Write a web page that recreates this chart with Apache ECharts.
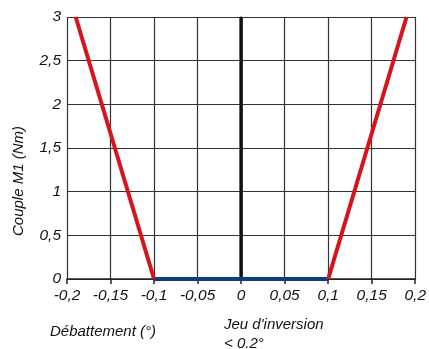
<!DOCTYPE html>
<html><head><meta charset="utf-8">
<script src="https://cdn.jsdelivr.net/npm/echarts@6/dist/echarts.min.js"></script>
<style>html,body{margin:0;padding:0;background:#fff}#c{width:429px;height:349px}</style>
</head><body><div id="c"></div>
<script>
var xTicks = ['-0,2','-0,15','-0,1','-0,05','0','0,05','0,1','0,15','0,2'];
var yTicks = ['0','0,5','1','1,5','2','2,5','3'];
var redLeft = [[-0.19, 3], [-0.1, 0]];
var blueFlat = [[-0.1, 0], [0.1, 0]];
var redRight = [[0.1, 0], [0.19, 3]];
var zeroLine = [[0, 0], [0, 3]];
var yName = 'Couple M1 (Nm)';
var xName = 'Débattement (°)';
var noteText = "Jeu d'inversion\n< 0.2°";

var FONT = '"Liberation Sans", Arial, sans-serif';
var chart = echarts.init(document.getElementById('c'));
chart.setOption({
  animation: false,
  grid: {left: 67, right: 13, top: 17, bottom: 70},
  title: [
    {text: xName, left: 45, top: 319, textStyle: {fontFamily: FONT, fontStyle: 'italic', fontWeight: 'normal', fontSize: 15, color: '#111'}},
    {text: noteText, left: 219, top: 310, textStyle: {fontFamily: FONT, fontStyle: 'italic', fontWeight: 'normal', fontSize: 15, color: '#111', lineHeight: 19}}
  ],
  graphic: [
    {type: 'text', x: 19, y: 181, rotation: Math.PI / 2,
     style: {text: yName, fontFamily: FONT, fontStyle: 'italic', fontSize: 15, fill: '#111', align: 'center', verticalAlign: 'middle'}}
  ],
  xAxis: {
    type: 'value', min: -0.2, max: 0.2, interval: 0.05,
    axisLine: {show: true, lineStyle: {color: '#222', width: 1.5}},
    axisTick: {show: true, inside: false, length: 5, lineStyle: {color: '#222', width: 1.5}},
    splitLine: {show: true, lineStyle: {color: '#333', width: 1.2}},
    axisLabel: {
      margin: 9, fontFamily: FONT, fontStyle: 'italic', fontSize: 15.5, color: '#111',
      formatter: function (v) { return xTicks[Math.round((v + 0.2) / 0.05)]; }
    }
  },
  yAxis: {
    type: 'value', min: 0, max: 3, interval: 0.5,
    axisLine: {show: true, lineStyle: {color: '#222', width: 1.5}},
    axisTick: {show: false},
    splitLine: {show: true, lineStyle: {color: '#333', width: 1.2}},
    axisLabel: {
      margin: 6, fontFamily: FONT, fontStyle: 'italic', fontSize: 15.5, color: '#111',
      formatter: function (v) { return yTicks[Math.round(v / 0.5)]; }
    }
  },
  series: [
    {type: 'line', data: zeroLine, symbol: 'none', lineStyle: {color: '#111', width: 3.5}, z: 3},
    {type: 'line', data: blueFlat, symbol: 'none', lineStyle: {color: '#0b3d8c', width: 4}, z: 4},
    {type: 'line', data: redLeft, symbol: 'none', lineStyle: {color: '#d7141a', width: 4}, z: 5},
    {type: 'line', data: redRight, symbol: 'none', lineStyle: {color: '#d7141a', width: 4}, z: 5}
  ]
});
</script></body></html>
